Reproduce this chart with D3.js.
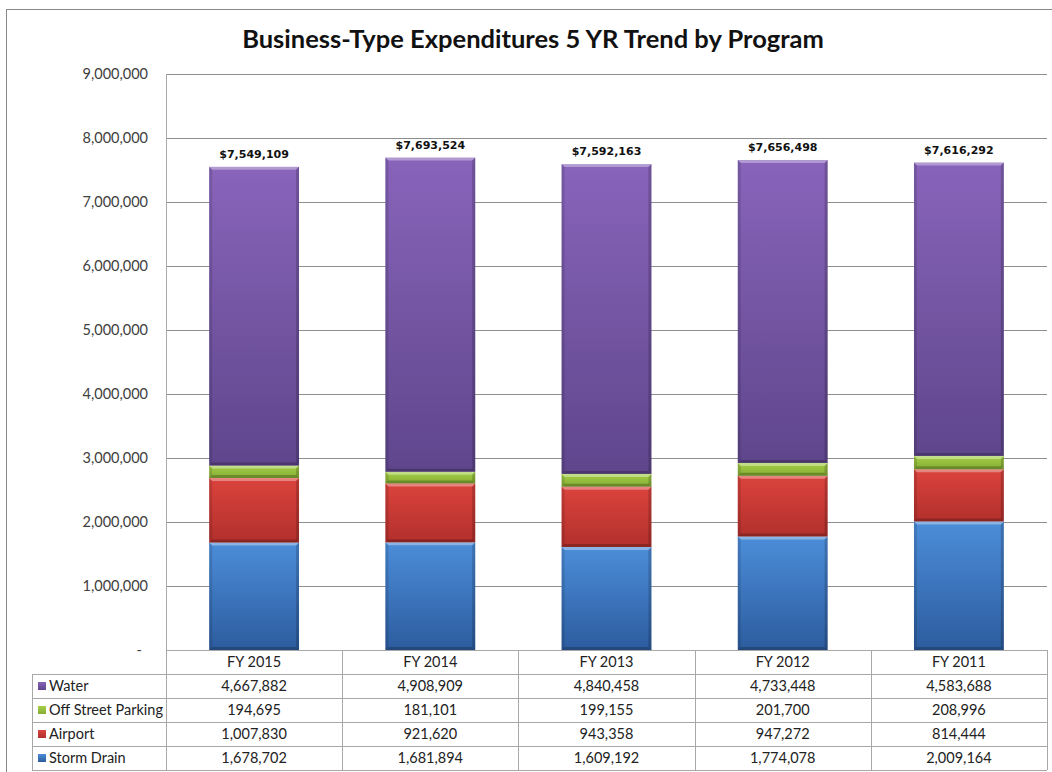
<!DOCTYPE html>
<html>
<head>
<meta charset="utf-8">
<script src="https://cdnjs.cloudflare.com/ajax/libs/d3/7.8.5/d3.min.js"></script>
<style>
  body { margin: 0; background: #fff; }
  svg { display: block; }
</style>
</head>
<body>
<script>
// data
var years = ["FY 2015", "FY 2014", "FY 2013", "FY 2012", "FY 2011"];
var water = [4667882, 4908909, 4840458, 4733448, 4583688];
var parking = [194695, 181101, 199155, 201700, 208996];
var airport = [1007830, 921620, 943358, 947272, 814444];
var storm = [1678702, 1681894, 1609192, 1774078, 2009164];

// stacking order is bottom up, table order is top down
var series = [
    { key: "storm", name: "Storm Drain", values: storm, top: "#4c8dd9", bottom: "#2c5c9e" },
    { key: "airport", name: "Airport", values: airport, top: "#db433d", bottom: "#b2302c" },
    { key: "parking", name: "Off Street Parking", values: parking, top: "#a4cf47", bottom: "#86ad34" },
    { key: "water", name: "Water", values: water, top: "#8864ba", bottom: "#5f468c" }
];

var width = 1052, height = 772;
var margin = { left: 166, right: 1047, top: 74, bottom: 650 };

var svg = d3.select("body").append("svg")
    .attr("width", width)
    .attr("height", height);

var defs = svg.append("defs");

series.forEach(function(s) {
    var grad = defs.append("linearGradient")
        .attr("id", "grad-" + s.key)
        .attr("x1", 0).attr("y1", 0).attr("x2", 0).attr("y2", 1);
    grad.append("stop").attr("offset", "0%").attr("stop-color", s.top);
    grad.append("stop").attr("offset", "100%").attr("stop-color", s.bottom);
});

// outer chart frame (runs off the right edge like the screenshot)
svg.append("rect")
    .attr("x", 6.5).attr("y", 9.5)
    .attr("width", 1060).attr("height", 780)
    .attr("fill", "none")
    .attr("stroke", "#8a8a8a");

// title
svg.append("text")
    .attr("x", 533).attr("y", 48)
    .attr("text-anchor", "middle")
    .style("font-family", "Lato, 'Open Sans', sans-serif")
    .style("font-weight", "bold")
    .style("font-size", "25.5px")
    .style("fill", "#111")
    .text("Business-Type Expenditures 5 YR Trend by Program");

var x = d3.scaleBand()
    .domain(years)
    .range([margin.left, margin.right])
    .paddingInner(0.49)
    .paddingOuter(0.245);

var col = d3.scaleBand()
    .domain(years)
    .range([margin.left, margin.right]);

var y = d3.scaleLinear()
    .domain([0, 9000000])
    .range([margin.bottom, margin.top]);

// gridlines
svg.append("g")
    .selectAll("line")
    .data(y.ticks(9).filter(function(d) { return d > 0; }))
    .enter().append("line")
    .attr("x1", margin.left).attr("x2", margin.right)
    .attr("y1", function(d) { return Math.round(y(d)) + 0.5; })
    .attr("y2", function(d) { return Math.round(y(d)) + 0.5; })
    .attr("stroke", "#8e8e8e");

// y axis labels
var fmt = d3.format(",");
svg.append("g")
    .selectAll("text")
    .data(y.ticks(9))
    .enter().append("text")
    .attr("x", function(d) { return d === 0 ? 142 : 148; })
    .attr("y", function(d) { return y(d); })
    .attr("dy", "0.35em")
    .attr("text-anchor", "end")
    .style("font-family", "Lato, 'Open Sans', sans-serif")
    .style("font-size", "14.5px")
    .style("fill", "#404040")
    .text(function(d) { return d === 0 ? "-" : fmt(d); });

// stacked bars
var stacked = years.map(function(yr, i) {
    var base = 0;
    return series.map(function(s) {
        var seg = { year: yr, s: s, y0: base, y1: base + s.values[i] };
        base += s.values[i];
        return seg;
    });
});

var barG = svg.append("g");
stacked.forEach(function(segs) {
    segs.forEach(function(d) {
        var x0 = x(d.year), x1 = x(d.year) + x.bandwidth();
        var top = y(d.y1), bot = y(d.y0);
        var g = barG.append("g");
        g.append("rect")
            .attr("x", x0).attr("y", top)
            .attr("width", x.bandwidth()).attr("height", bot - top)
            .attr("fill", "url(#grad-" + d.s.key + ")");
        var b = Math.min(3, (bot - top) / 3);
        // bevel: light top, shaded sides and bottom
        g.append("polygon")
            .attr("points", [[x0, top], [x1, top], [x1 - b, top + b], [x0 + b, top + b]].join(" "))
            .attr("fill", "#fff").attr("opacity", 0.35);
        g.append("polygon")
            .attr("points", [[x0, top], [x0 + b, top + b], [x0 + b, bot - b], [x0, bot]].join(" "))
            .attr("fill", "#000").attr("opacity", 0.12);
        g.append("polygon")
            .attr("points", [[x1, top], [x1 - b, top + b], [x1 - b, bot - b], [x1, bot]].join(" "))
            .attr("fill", "#000").attr("opacity", 0.18);
        g.append("polygon")
            .attr("points", [[x0, bot], [x1, bot], [x1 - b, bot - b], [x0 + b, bot - b]].join(" "))
            .attr("fill", "#000").attr("opacity", 0.22);
    });
});

// totals above the bars
svg.append("g")
    .selectAll("text")
    .data(stacked)
    .enter().append("text")
    .attr("x", function(d) { return x(d[0].year) + x.bandwidth() / 2; })
    .attr("y", function(d) { return y(d[d.length - 1].y1) - 9; })
    .attr("text-anchor", "middle")
    .style("font-family", "'DejaVu Sans', Verdana, sans-serif")
    .style("font-weight", "bold")
    .style("font-size", "11px")
    .style("fill", "#111")
    .text(function(d) { return "$" + fmt(d[d.length - 1].y1); });

// data table under the plot
var rowH = 24;
var tableTop = margin.bottom;
var legendLeft = 32;
var tbl = svg.append("g");
var lineColor = "#a8a8a8";

// vertical lines
tbl.append("line")
    .attr("x1", margin.left + 0.5).attr("x2", margin.left + 0.5)
    .attr("y1", margin.top).attr("y2", tableTop + rowH * 5)
    .attr("stroke", lineColor);
tbl.append("line")
    .attr("x1", legendLeft + 0.5).attr("x2", legendLeft + 0.5)
    .attr("y1", tableTop + rowH).attr("y2", tableTop + rowH * 5)
    .attr("stroke", lineColor);
tbl.selectAll(".vcol")
    .data(years)
    .enter().append("line")
    .attr("class", "vcol")
    .attr("x1", function(d) { return Math.round(col(d) + col.bandwidth()) + 0.5; })
    .attr("x2", function(d) { return Math.round(col(d) + col.bandwidth()) + 0.5; })
    .attr("y1", tableTop).attr("y2", tableTop + rowH * 5)
    .attr("stroke", lineColor);

// horizontal lines
tbl.selectAll(".hrow")
    .data(d3.range(6))
    .enter().append("line")
    .attr("class", "hrow")
    .attr("x1", function(i) { return i === 0 ? margin.left : legendLeft; })
    .attr("x2", margin.right)
    .attr("y1", function(i) { return tableTop + i * rowH + 0.5; })
    .attr("y2", function(i) { return tableTop + i * rowH + 0.5; })
    .attr("stroke", lineColor);

var cellFont = "Lato, 'Open Sans', sans-serif";

// header row
tbl.selectAll(".hdr")
    .data(years)
    .enter().append("text")
    .attr("class", "hdr")
    .attr("x", function(d) { return col(d) + col.bandwidth() / 2; })
    .attr("y", tableTop + rowH / 2)
    .attr("dy", "0.35em")
    .attr("text-anchor", "middle")
    .style("font-family", cellFont)
    .style("font-size", "14.5px")
    .style("fill", "#222")
    .text(function(d) { return d; });

var tableRows = series.slice().reverse();
tableRows.forEach(function(s, r) {
    var cy = tableTop + (r + 1) * rowH + rowH / 2;
    tbl.append("rect")
        .attr("x", 38).attr("y", cy - 4)
        .attr("width", 8).attr("height", 8)
        .attr("fill", "url(#grad-" + s.key + ")");
    tbl.append("text")
        .attr("x", 49).attr("y", cy)
        .attr("dy", "0.35em")
        .style("font-family", cellFont)
        .style("font-size", "14.5px")
        .style("fill", "#222")
        .text(s.name);
    tbl.selectAll(".cell-" + s.key)
        .data(s.values)
        .enter().append("text")
        .attr("class", "cell-" + s.key)
        .attr("x", function(d, i) { return col(years[i]) + col.bandwidth() / 2; })
        .attr("y", cy)
        .attr("dy", "0.35em")
        .attr("text-anchor", "middle")
        .style("font-family", cellFont)
        .style("font-size", "14.5px")
        .style("fill", "#222")
        .text(function(d) { return fmt(d); });
});
</script>
</body>
</html>
